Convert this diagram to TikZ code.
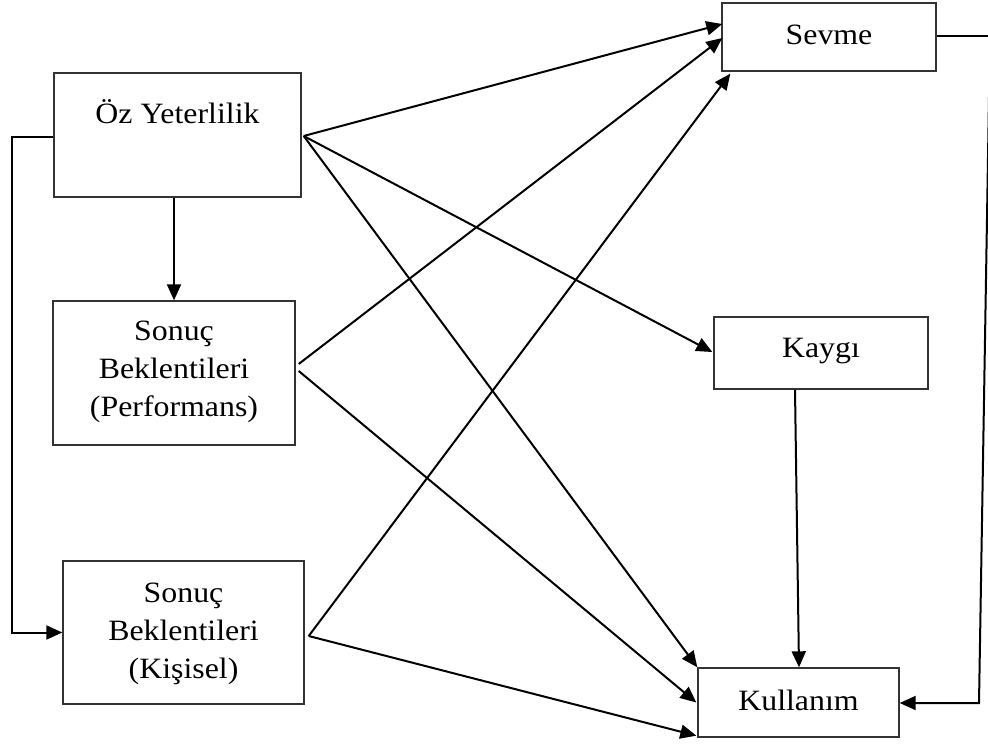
\documentclass[tikz,border=0pt]{standalone}
\usepackage{fontspec}
\setmainfont{Liberation Serif}[FakeStretch=1.08]
\usetikzlibrary{arrows.meta,calc}
\begin{document}
\begin{tikzpicture}[x=1pt,y=-1pt,
  box/.style={draw=black!80, line width=1.4pt, rectangle, inner sep=0pt},
  lbl/.style={anchor=base, inner sep=0pt, font=\fontsize{29.5}{38}\selectfont},
  conn/.style={line width=2pt, -{Triangle[length=16pt,width=14pt]}},
  wire/.style={line width=2pt}]
\useasboundingbox (0,0) rectangle (988,745);
\clip (0,0) rectangle (988,745);

% boxes
\node[box, minimum width=247pt, minimum height=124pt] (oz)   at (177.5,135) {};
\node[box, minimum width=242pt, minimum height=144pt] (perf) at (174,373) {};
\node[box, minimum width=241pt, minimum height=143pt] (kis)  at (183.5,632.5) {};
\node[box, minimum width=214pt, minimum height=68pt]  (sev)  at (829,37) {};
\node[box, minimum width=214pt, minimum height=72pt]  (kay)  at (821,353) {};
\node[box, minimum width=201pt, minimum height=69pt]  (kul)  at (798.5,702.5) {};

% labels
\node[lbl] (ozt)   at (177.5,123) {Öz Yeterlilik};
\node[lbl] (perft) at (174,340) {\begin{tabular}[t]{@{}c@{}}Sonuç\\Beklentileri\\(Performans)\end{tabular}};
\node[lbl] (kist)  at (183.5,602) {\begin{tabular}[t]{@{}c@{}}Sonuç\\Beklentileri\\(Kişisel)\end{tabular}};
\node[lbl] (sevt)  at (829,44) {Sevme};
\node[lbl] (kayt)  at (821,357) {Kaygı};
\node[lbl] (kult)  at (798.5,710) {Kullanım};

% connectors from Öz Yeterlilik
\draw[conn] ($(oz.east)+(2,1)$) -- ($(sev.west)+(1,-13)$);
\draw[conn] ($(oz.east)+(2,1)$) -- ($(kay.west)+(-1,-1)$);
\draw[conn] ($(oz.east)+(2,1)$) -- (kul.north west);
\draw[conn] (oz.south -| perf.north) -- (perf.north);
\draw[conn] ($(oz.west)+(0,2)$) -- ++(-41,0) |- (kis.west);

% connectors from Sonuç Beklentileri (Performans)
\draw[conn] ($(perf.east)+(3,-9)$) -- ($(sev.west)+(1,1)$);
\draw[conn] ($(perf.east)+(3,-2)$) -- ($(kul.west)+(-1,0)$);

% connectors from Sonuç Beklentileri (Kişisel)
\draw[conn] ($(kis.east)+(4,3.5)$) -- ($(sev.south west)+(9,2)$);
\draw[conn] ($(kis.east)+(4,3.5)$) -- ($(kul.south west)+(-1,-2)$);

% Kaygı to Kullanım
\draw[conn] ($(kay.south)+(-26,0)$) -- ($(kul.north)+(0.5,0)$);

% Sevme to Kullanım, along the right side
\coordinate (rt) at (990,36);
\coordinate (rb) at (979,703);
\draw[wire] ($(sev.east)+(0,-1)$) -- (rt);
\draw[conn] (rt) -- (rb) -- ($(kul.east)+(0,0.5)$);
\end{tikzpicture}
\end{document}
